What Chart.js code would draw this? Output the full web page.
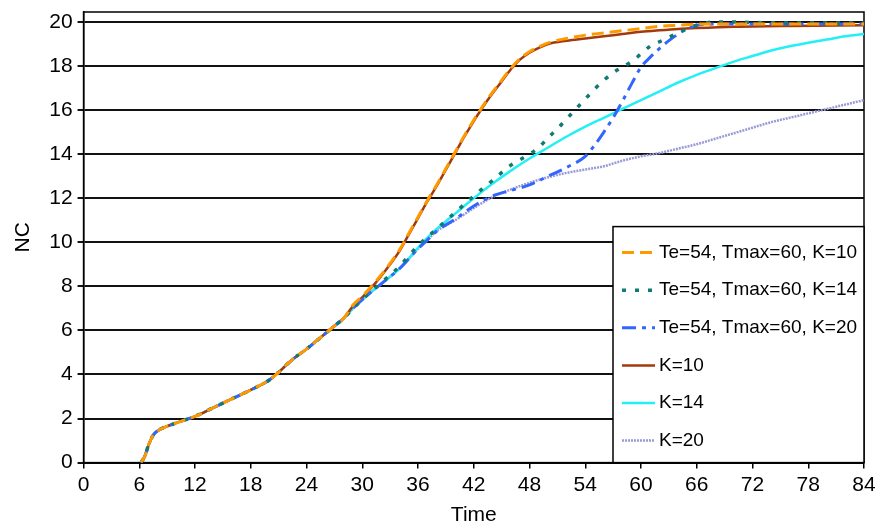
<!DOCTYPE html>
<html>
<head>
<meta charset="utf-8">
<script src="https://cdn.jsdelivr.net/npm/chart.js@4/dist/chart.umd.min.js"></script>
<style>
  html, body { margin: 0; padding: 0; background: #fff; }
  #nc { display: block; }
</style>
</head>
<body>
<canvas id="nc" width="875" height="528"></canvas>
<script>
// shared start of all runs (curves lie on top of each other up to t~28)
var commonTime = [6.2, 6.6, 7.0, 7.5, 8.0, 9, 10, 11, 12, 14, 16, 18, 20, 21, 22, 23, 24, 25, 26, 27, 28];
var commonNC   = [0, 0.3, 0.8, 1.25, 1.45, 1.65, 1.8, 1.95, 2.1, 2.5, 2.9, 3.3, 3.75, 4.1, 4.5, 4.85, 5.15, 5.5, 5.85, 6.2, 6.55];

var k10Time = [29, 30, 31, 32, 33, 34, 35, 36, 37, 38, 39, 40, 41, 42, 43, 44, 45, 46, 47, 48, 49, 50, 52, 54, 56, 58, 60, 62, 64, 66, 70, 76, 84];
var k10NC   = [7.1, 7.5, 7.95, 8.45, 9.0, 9.6, 10.35, 11.1, 11.85, 12.55, 13.3, 14.05, 14.8, 15.5, 16.15, 16.75, 17.3, 17.85, 18.3, 18.6, 18.82, 19.0, 19.15, 19.25, 19.35, 19.45, 19.55, 19.62, 19.68, 19.72, 19.78, 19.82, 19.85];

var te10Time = [29, 30, 31, 32, 33, 34, 35, 36, 37, 38, 39, 40, 41, 42, 43, 44, 45, 46, 47, 48, 49, 50, 52, 54, 56, 58, 60, 62, 64, 66, 70, 84];
var te10NC   = [7.15, 7.55, 8.0, 8.5, 9.05, 9.65, 10.4, 11.15, 11.9, 12.6, 13.35, 14.1, 14.85, 15.55, 16.2, 16.8, 17.35, 17.9, 18.35, 18.65, 18.87, 19.05, 19.25, 19.4, 19.5, 19.6, 19.7, 19.8, 19.85, 19.9, 19.9, 19.9];

var k14Time = [29, 30, 32, 34, 36, 37, 38, 40, 42, 44, 46, 48, 50, 52, 54, 56, 58, 60, 62, 64, 66, 68, 70, 72, 74, 76, 78, 80, 82, 84];
var k14NC   = [7.0, 7.4, 8.1, 8.8, 9.75, 10.2, 10.6, 11.3, 12.0, 12.65, 13.25, 13.8, 14.3, 14.8, 15.25, 15.65, 16.05, 16.45, 16.85, 17.25, 17.6, 17.9, 18.2, 18.45, 18.7, 18.9, 19.05, 19.2, 19.35, 19.45];

var te14Time = [29, 30, 32, 34, 36, 38, 40, 42, 44, 46, 48, 49, 50, 51, 52, 53, 54, 55, 56, 57, 58, 59, 60, 61, 62, 63, 64, 65, 66, 67, 68, 76, 84];
var te14NC   = [7.0, 7.4, 8.15, 8.9, 9.85, 10.6, 11.35, 12.1, 12.8, 13.5, 14.0, 14.3, 14.75, 15.15, 15.6, 16.05, 16.5, 16.95, 17.35, 17.7, 17.95, 18.2, 18.55, 18.9, 19.1, 19.3, 19.5, 19.7, 19.85, 19.95, 20.0, 19.95, 19.95];

var k20Time = [29, 30, 32, 34, 36, 37, 38, 40, 42, 44, 46, 48, 50, 52, 54, 56, 58, 60, 62, 64, 66, 68, 70, 72, 74, 76, 78, 80, 82, 84];
var k20NC   = [7.0, 7.4, 8.1, 8.8, 9.7, 10.1, 10.5, 11.0, 11.55, 12.05, 12.4, 12.7, 12.95, 13.15, 13.3, 13.45, 13.7, 13.9, 14.05, 14.25, 14.45, 14.7, 14.95, 15.2, 15.45, 15.65, 15.85, 16.05, 16.25, 16.45];

var te20Time = [29, 30, 32, 34, 36, 37, 38, 40, 42, 44, 46, 48, 50, 52, 54, 55, 56, 57, 58, 59, 60, 61, 62, 63, 64, 65, 66, 68, 84];
var te20NC   = [7.0, 7.4, 8.1, 8.8, 9.7, 10.1, 10.5, 11.05, 11.65, 12.1, 12.35, 12.6, 13.0, 13.4, 13.9, 14.4, 15.0, 15.65, 16.4, 17.2, 17.95, 18.4, 18.8, 19.15, 19.45, 19.7, 19.85, 19.9, 19.9];

var timeTicks = [0, 6, 12, 18, 24, 30, 36, 42, 48, 54, 60, 66, 72, 78, 84];
var ncTicks   = [0, 2, 4, 6, 8, 10, 12, 14, 16, 18, 20];

function toPoints(times, values) {
    var t = commonTime.concat(times);
    var v = commonNC.concat(values);
    return t.map(function(x, i) { return {x: x, y: v[i]}; });
}

// legend drawn as a framed box inside the plot, bottom right
var boxLegend = {
    id: 'boxLegend',
    afterDatasetsDraw: function(chart) {
        var ctx = chart.ctx, a = chart.chartArea;
        var left = a.right - 251, top = a.bottom - 236;
        ctx.save();
        ctx.fillStyle = '#fff';
        ctx.fillRect(left, top, a.right - left, a.bottom - top);
        ctx.strokeStyle = '#000';
        ctx.lineWidth = 1.5;
        ctx.strokeRect(left, top, a.right - left, a.bottom - top);
        ctx.font = '19px "Liberation Sans", Arial, sans-serif';
        ctx.textBaseline = 'middle';
        chart.data.datasets.forEach(function(ds, i) {
            var y = top + 26 + i * 37.6;
            ctx.beginPath();
            ctx.strokeStyle = ds.borderColor;
            ctx.lineWidth = ds.borderWidth;
            ctx.setLineDash(ds.borderDash || []);
            ctx.moveTo(left + 9, y);
            ctx.lineTo(left + 42, y);
            ctx.stroke();
            ctx.setLineDash([]);
            ctx.fillStyle = '#000';
            ctx.fillText(ds.label, left + 46, y);
        });
        ctx.restore();
    }
};

var plotFrame = {
    id: 'plotFrame',
    beforeDatasetsDraw: function(chart) {
        var ctx = chart.ctx, a = chart.chartArea;
        ctx.save();
        ctx.strokeStyle = '#000';
        ctx.lineWidth = 1.5;
        ctx.strokeRect(a.left, a.top, a.right - a.left, a.bottom - a.top);
        ctx.restore();
    }
};

var font = {family: '"Liberation Sans", Arial, sans-serif', size: 21};

new Chart(document.getElementById('nc').getContext('2d'), {
    type: 'line',
    data: {
        datasets: [
            {label: 'Te=54, Tmax=60, K=10', data: toPoints(te10Time, te10NC), borderColor: '#ff9900', borderWidth: 3, borderDash: [12, 6]},
            {label: 'Te=54, Tmax=60, K=14', data: toPoints(te14Time, te14NC), borderColor: '#117a72', borderWidth: 3.5, borderDash: [4, 9]},
            {label: 'Te=54, Tmax=60, K=20', data: toPoints(te20Time, te20NC), borderColor: '#3366ff', borderWidth: 3, borderDash: [14, 6, 4, 6]},
            {label: 'K=10', data: toPoints(k10Time, k10NC), borderColor: '#a33a0c', borderWidth: 2.5},
            {label: 'K=14', data: toPoints(k14Time, k14NC), borderColor: '#22f0f5', borderWidth: 2.5},
            {label: 'K=20', data: toPoints(k20Time, k20NC), borderColor: '#9a9ad6', borderWidth: 2.5, borderDash: [2, 1]}
        ]
    },
    options: {
        responsive: false,
        animation: false,
        layout: {padding: {top: 0, right: 0, left: 11, bottom: 0}},
        elements: {
            point: {radius: 0},
            line: {cubicInterpolationMode: 'monotone', fill: false}
        },
        plugins: {
            legend: {display: false},
            tooltip: {enabled: false}
        },
        scales: {
            x: {
                type: 'linear',
                min: 0,
                max: 84,
                afterBuildTicks: function(s) { s.ticks = timeTicks.map(function(v) { return {value: v}; }); },
                afterFit: function(s) { s.paddingRight = 11; s.paddingLeft = 0; },
                ticks: {font: font, color: '#000', maxRotation: 0, padding: 4},
                grid: {drawOnChartArea: false, color: '#000', lineWidth: 1.5, tickLength: 6},
                border: {color: '#000', width: 1.5},
                title: {display: true, text: 'Time', font: font, color: '#000', padding: {top: 1, bottom: 0}}
            },
            y: {
                min: 0,
                max: 20.45,
                afterBuildTicks: function(s) { s.ticks = ncTicks.map(function(v) { return {value: v}; }); },
                afterFit: function(s) { s.paddingTop = 12; s.paddingBottom = 0; },
                ticks: {font: font, color: '#000', padding: 5},
                grid: {color: '#111', lineWidth: 2, tickLength: 6},
                border: {color: '#000', width: 1.5},
                title: {display: true, text: 'NC', font: font, color: '#000', padding: {top: 0, bottom: 8}}
            }
        }
    },
    plugins: [plotFrame, boxLegend]
});
</script>
</body>
</html>
